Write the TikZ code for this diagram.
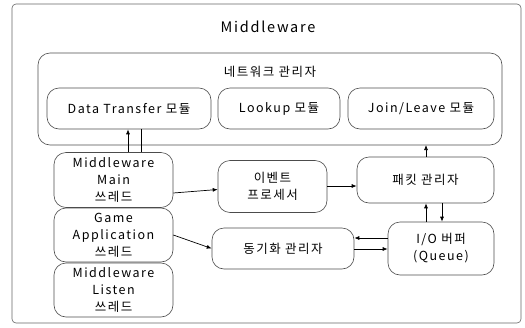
\documentclass[tikz,border=0pt]{standalone}
\usepackage{fontspec}
\setmainfont{Noto Sans CJK KR}[LetterSpace=12]
\usetikzlibrary{arrows.meta}
\begin{document}
\begin{tikzpicture}[x=1pt,y=-1pt,
  box/.style={draw=black!70,line width=0.6pt,rounded corners=12pt},
  lbl/.style={font=\fontsize{12.5}{17}\selectfont,align=center,inner sep=0pt},
  arr/.style={-{Latex[length=5pt,width=4pt]},line width=0.7pt}]
\useasboundingbox (0,0) rectangle (525,327);
\draw[box,rounded corners=4pt,draw=black!60] (12,4) rectangle (521,323);
\node[lbl,font=\fontsize{14.5}{17}\selectfont] (title) at (268,27) {Middleware};
% network manager
\draw[box] (38,53) rectangle (502,145);
\coordinate (nmtl) at (38,53);
\node[lbl] (nmlbl) at (270,72) {네트워크 관리자};
\node[box,lbl,minimum width=164pt,minimum height=41pt] (dt) at (129,108.5) {Data Transfer 모듈};
\node[box,lbl,minimum width=122pt,minimum height=41pt] (lk) at (279,108.5) {Lookup 모듈};
\node[box,lbl,minimum width=146pt,minimum height=41pt] (jl) at (421,108.5) {Join/Leave 모듈};
\coordinate (nmbot) at (426,145);
% threads
\node[box,lbl,minimum width=119pt,minimum height=55pt] (mm) at (113.5,180) {Middleware\\Main\\쓰레드};
\node[box,lbl,minimum width=119pt,minimum height=54pt] (ga) at (113.5,235) {Game\\Application\\쓰레드};
\node[box,lbl,minimum width=119pt,minimum height=54pt] (ml) at (113.5,290) {Middleware\\Listen\\쓰레드};
% other
\node[box,lbl,minimum width=109pt,minimum height=52pt] (ep) at (272.5,186.5) {이벤트\\프로세서};
\node[box,lbl,minimum width=137pt,minimum height=46pt] (pm) at (425.5,180) {패킷 관리자};
\node[box,lbl,minimum width=142pt,minimum height=41pt] (sm) at (283,248.5) {동기화 관리자};
\node[box,lbl,minimum width=106pt,minimum height=53pt] (io) at (441,248.5) {I/O 버퍼\\(Queue)};
% connectors
\draw[arr] (mm.north -| 128,0) -- (dt.south -| 128,0);
\draw[line width=0.7pt] (mm.north -| 141,0) -- (dt.south -| 141,0);
\draw[arr] (pm.north -| nmbot) -- (nmbot);
\draw[arr] ([yshift=-13pt]mm.east) -- ([yshift=-3pt]ep.west);
\draw[arr] (ga.east) -- (sm.west);
\draw[arr] (ep.east |- 0,186) -- (pm.west |- 0,186);
\draw[arr] (io.north -| 426,0) -- (pm.south -| 426,0);
\draw[arr] (pm.south -| 442,0) -- (io.north -| 442,0);
\draw[arr] (io.west |- 0,238) -- (sm.east |- 0,238);
\draw[arr] (sm.east |- 0,249) -- (io.west |- 0,249);
\end{tikzpicture}
\end{document}
